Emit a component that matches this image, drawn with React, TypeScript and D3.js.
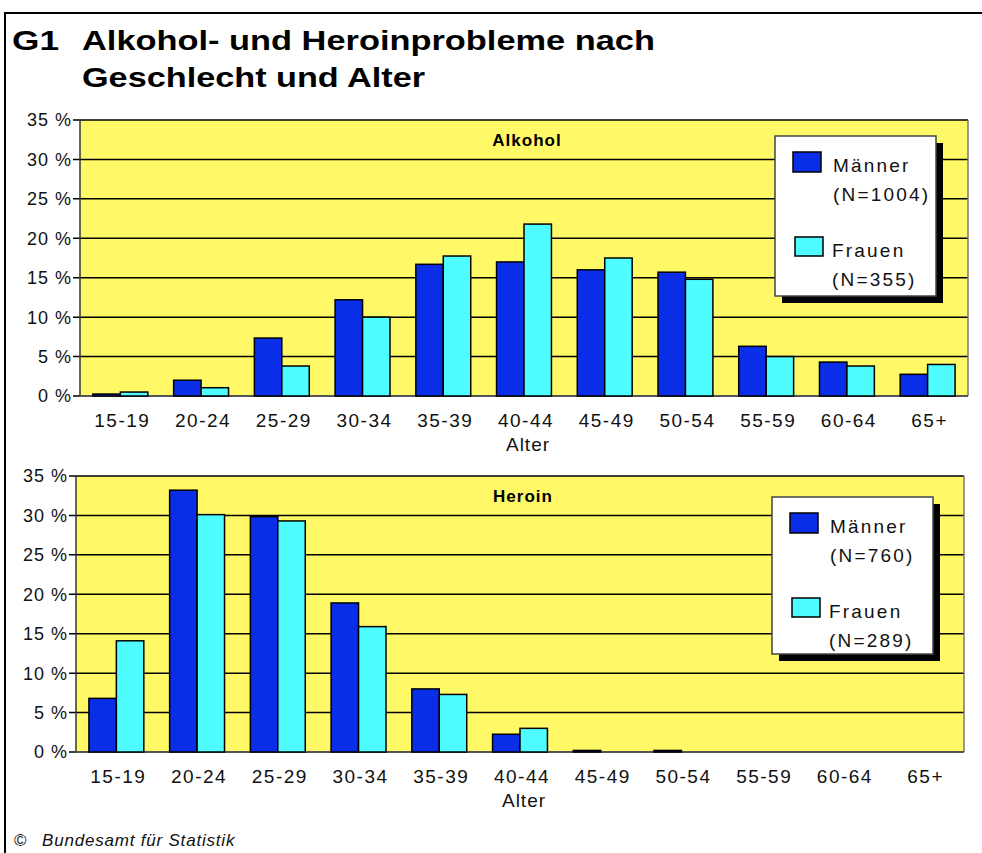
import React from 'react';
import * as d3 from 'd3';

const categories = ['15-19', '20-24', '25-29', '30-34', '35-39', '40-44', '45-49', '50-54', '55-59', '60-64', '65+'];
const alkoholMaenner = [0.25, 2.0, 7.35, 12.2, 16.7, 17.0, 16.0, 15.7, 6.3, 4.3, 2.75];
const alkoholFrauen = [0.5, 1.05, 3.8, 10.0, 17.75, 21.8, 17.5, 14.8, 5.0, 3.8, 4.0];
const heroinMaenner = [6.8, 33.2, 29.85, 18.9, 8.0, 2.25, 0.2, 0.2, 0, 0, 0];
const heroinFrauen = [14.1, 30.1, 29.3, 15.9, 7.3, 3.0, 0, 0, 0, 0, 0];
const yTicks = [0, 5, 10, 15, 20, 25, 30, 35];
const seriesNames = ['Männer', 'Frauen'];

const BLUE = '#0a2ee8';
const CYAN = '#4ffcff';
const YELLOW = '#fff968';
const FONT = 'Liberation Sans, Arial, sans-serif';

interface PanelProps {
  x: number;
  y: number;
  title: string;
  men: number[];
  women: number[];
  nMen: string;
  nWomen: string;
  legendX: number;
  legendY: number;
  legendH: number;
}

const W = 888;
const H = 276;

const Panel = ({ x, y, title, men, women, nMen, nWomen, legendX, legendY, legendH }: PanelProps) => {
  const xScale = d3.scaleBand<string>().domain(categories).range([x, x + W]).paddingInner(0.32).paddingOuter(0.16);
  const sub = d3.scaleBand<string>().domain(seriesNames).range([0, xScale.bandwidth()]);
  const yScale = d3.scaleLinear().domain([0, 35]).range([y + H, y]);

  // legend box
  const lw = 161;

  return (
    <g>
      <rect x={x} y={y} width={W} height={H} fill={YELLOW} />
      {yTicks.map((t) => (
        <g key={t}>
          <line x1={x - 7} x2={x + W} y1={yScale(t)} y2={yScale(t)} stroke="#000" strokeWidth={1.5} />
          <text
            x={x - 8}
            y={yScale(t)}
            dy="0.36em"
            textAnchor="end"
            fontFamily={FONT}
            fontSize={18}
            letterSpacing={1}
            fill="#111"
          >
            {t} %
          </text>
        </g>
      ))}
      <line x1={x + W} x2={x + W} y1={y} y2={y + H} stroke="#777" strokeWidth={1.5} />
      <line x1={x} x2={x} y1={y} y2={y + H} stroke="#333" strokeWidth={1.5} />
      <line x1={x} x2={x + W} y1={y + H} y2={y + H} stroke="#555" strokeWidth={2} />
      {categories.map((c, i) => {
        const bx = xScale(c)!;
        return (
          <g key={c}>
            {men[i] > 0 && (
              <rect
                x={bx + sub('Männer')!}
                y={yScale(men[i])}
                width={sub.bandwidth()}
                height={yScale(0) - yScale(men[i])}
                fill={BLUE}
                stroke="#000"
                strokeWidth={1.5}
              />
            )}
            {women[i] > 0 && (
              <rect
                x={bx + sub('Frauen')!}
                y={yScale(women[i])}
                width={sub.bandwidth()}
                height={yScale(0) - yScale(women[i])}
                fill={CYAN}
                stroke="#000"
                strokeWidth={1.5}
              />
            )}
            <text
              x={bx + xScale.bandwidth() / 2 + 2}
              y={y + H + 31}
              textAnchor="middle"
              fontFamily={FONT}
              fontSize={19}
              letterSpacing={1.5}
              fill="#111"
            >
              {c}
            </text>
          </g>
        );
      })}
      <text x={x + W / 2 + 4} y={y + H + 55} textAnchor="middle" fontFamily={FONT} fontSize={19} letterSpacing={1} fill="#111">
        Alter
      </text>
      <text x={x + W / 2 + 3} y={y + 26} textAnchor="middle" fontFamily={FONT} fontWeight="bold" fontSize={17} letterSpacing={1} fill="#000">
        {title}
      </text>

      {/* legend */}
      <rect x={legendX + 7} y={legendY + 7} width={lw} height={legendH} fill="#000" />
      <rect x={legendX} y={legendY} width={lw} height={legendH} fill="#fff" stroke="#444" strokeWidth={1.5} />
      <rect x={legendX + 18} y={legendY + 16} width={28} height={20} fill={BLUE} stroke="#000" strokeWidth={1.5} />
      <rect x={legendX + 20} y={legendY + 101} width={28} height={19} fill={CYAN} stroke="#000" strokeWidth={1.5} />
      <g fontFamily={FONT} fontSize={19} letterSpacing={2.2} fill="#111">
        <text x={legendX + 58} y={legendY + 36}>Männer</text>
        <text x={legendX + 58} y={legendY + 65}>{nMen}</text>
        <text x={legendX + 57} y={legendY + 121}>Frauen</text>
        <text x={legendX + 57} y={legendY + 150}>{nWomen}</text>
      </g>
    </g>
  );
};

const App = () => {
  return (
    <svg width={982} height={853} style={{ position: 'absolute', left: 0, top: 0, background: '#fff' }}>
      <rect x={5} y={13} width={990} height={900} fill="#fff" stroke="#000" strokeWidth={2} />
      <g fontFamily={FONT} fontWeight="bold" fontSize={27} fill="#000">
        <text x={12} y={50} textLength={47} lengthAdjust="spacingAndGlyphs">G1</text>
        <text x={82} y={50} textLength={573} lengthAdjust="spacingAndGlyphs">Alkohol- und Heroinprobleme nach</text>
        <text x={82} y={87} textLength={343} lengthAdjust="spacingAndGlyphs">Geschlecht und Alter</text>
      </g>
      <Panel
        x={80}
        y={120}
        title="Alkohol"
        men={alkoholMaenner}
        women={alkoholFrauen}
        nMen="(N=1004)"
        nWomen="(N=355)"
        legendX={775}
        legendY={136}
        legendH={160}
      />
      <Panel
        x={76}
        y={476}
        title="Heroin"
        men={heroinMaenner}
        women={heroinFrauen}
        nMen="(N=760)"
        nWomen="(N=289)"
        legendX={772}
        legendY={497}
        legendH={157}
      />
      <text x={14} y={846} fontFamily={FONT} fontSize={17} fill="#111">©</text>
      <text x={42} y={846} fontFamily={FONT} fontStyle="italic" fontSize={17} letterSpacing={0.8} fill="#111">
        Bundesamt für Statistik
      </text>
    </svg>
  );
};

export default App;
